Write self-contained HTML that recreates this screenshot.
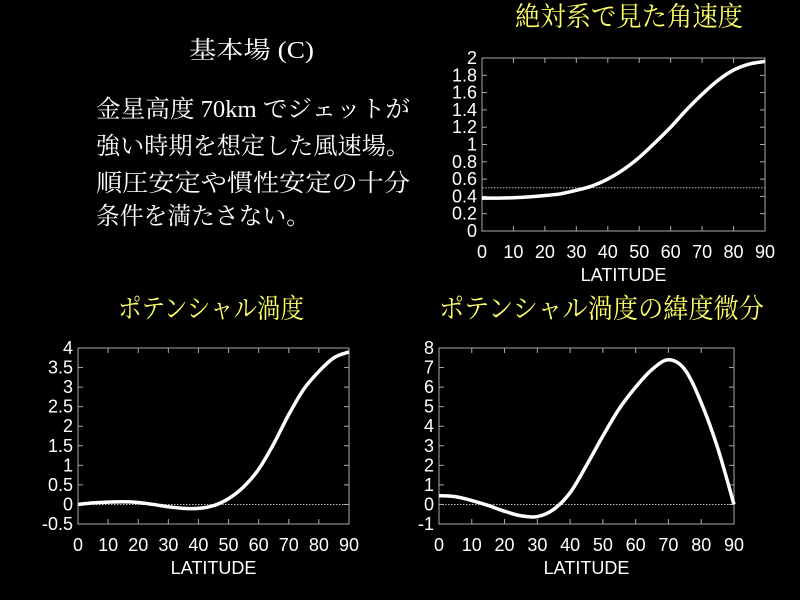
<!DOCTYPE html>
<html><head><meta charset="utf-8"><style>
html,body{margin:0;padding:0;background:#000;}
svg{display:block}
.tk{font-family:"Liberation Sans","DejaVu Sans",sans-serif;font-size:18px;fill:#fff}
.ttl{font-family:"Liberation Serif","Noto Serif CJK SC",serif;font-size:27px;fill:#ffff66}
.txt{font-family:"Liberation Serif","Noto Serif CJK SC",serif;font-size:24px;fill:#fff}
</style></head><body>
<svg id="root" width="800" height="600" viewBox="0 0 800 600">
<text class="ttl" x="515" y="26" textLength="228" lengthAdjust="spacingAndGlyphs">絶対系で見た角速度</text>
<text class="txt" x="189" y="58" textLength="125" lengthAdjust="spacingAndGlyphs">基本場 (C)</text>
<text class="txt" x="96" y="117" textLength="314" lengthAdjust="spacingAndGlyphs">金星高度 70km でジェットが</text>
<text class="txt" x="96" y="154" textLength="314" lengthAdjust="spacingAndGlyphs">強い時期を想定した風速場。</text>
<text class="txt" x="96" y="191" textLength="314" lengthAdjust="spacingAndGlyphs">順圧安定や慣性安定の十分</text>
<text class="txt" x="96" y="224" textLength="214" lengthAdjust="spacingAndGlyphs">条件を満たさない。</text>
<text class="ttl" x="118" y="318" textLength="186" lengthAdjust="spacingAndGlyphs">ポテンシャル渦度</text>
<text class="ttl" x="439" y="318" textLength="325" lengthAdjust="spacingAndGlyphs">ポテンシャル渦度の緯度微分</text>
</svg>
<script>
const lat = [0,5,10,15,20,25,30,35,40,45,50,55,60,65,70,75,80,85,90];
const omegaVals = [0.38,0.38,0.385,0.395,0.41,0.43,0.47,0.52,0.6,0.71,0.85,1.02,1.2,1.4,1.58,1.74,1.86,1.93,1.96];
const pvVals = [0,0.04,0.06,0.07,0.05,0,-0.06,-0.1,-0.1,-0.03,0.15,0.45,0.9,1.55,2.3,2.95,3.4,3.75,3.9];
const dpvVals = [0.45,0.4,0.2,-0.05,-0.35,-0.58,-0.62,-0.25,0.6,2.0,3.5,4.9,6.0,6.9,7.4,6.9,5.2,2.9,0];
const omegaTicks = ["0","0.2","0.4","0.6","0.8","1","1.2","1.4","1.6","1.8","2"];
const pvTicks = ["-0.5","0","0.5","1","1.5","2","2.5","3","3.5","4"];
const dpvTicks = ["-1","0","1","2","3","4","5","6","7","8"];
const xTicks = ["0","10","20","30","40","50","60","70","80","90"];
const NS="http://www.w3.org/2000/svg", root=document.getElementById('root');
function mk(tag,attrs,parent){const e=document.createElementNS(NS,tag);for(const k in attrs)e.setAttribute(k,attrs[k]);(parent||root).appendChild(e);return e;}
function chart(id,box,ymin,ymax,yt,vals,ref){
  const g=mk('g',{});
  
  
  const X=v=>box.x0+(v-0)/90*(box.x1-box.x0);
  const Y=v=>box.y1-(v-ymin)/(ymax-ymin)*(box.y1-box.y0);
  const fr=mk('rect',{x:box.x0,y:box.y0,width:box.x1-box.x0,height:box.y1-box.y0,fill:'none',stroke:'#aaa','stroke-width':1},g);
  
  
  yt.forEach(t=>{const v=parseFloat(t),y=Y(v);
    mk('line',{x1:box.x0,x2:box.x0+5,y1:y,y2:y,stroke:'#aaa'},g);mk('line',{x1:box.x1-5,x2:box.x1,y1:y,y2:y,stroke:'#aaa'},g);
    const tx=mk('text',{class:'tk',x:box.x0-5,y:y+6,'text-anchor':'end'},g);tx.textContent=t;
    
    });
  xTicks.forEach(t=>{const x=X(parseFloat(t));
    mk('line',{x1:x,x2:x,y1:box.y1,y2:box.y1-5,stroke:'#aaa'},g);mk('line',{x1:x,x2:x,y1:box.y0,y2:box.y0+5,stroke:'#aaa'},g);
    const tx=mk('text',{class:'tk',x:x,y:box.y1+27,'text-anchor':'middle'},g);tx.textContent=t;
    
    });
  const xl=mk('text',{class:'tk',x:(box.x0+box.x1)/2,y:box.y1+50,'text-anchor':'middle'},g);xl.textContent='LATITUDE';
  
  
  const rl=mk('line',{x1:box.x0,x2:box.x1,y1:Y(ref),y2:Y(ref),stroke:'#bbb','stroke-dasharray':'1.5 1.5'},g);
  
  
  const P=lat.map((l,i)=>[X(l),Y(vals[i])]);
  let d='M'+P[0][0]+','+P[0][1];
  for(let i=0;i<P.length-1;i++){const p0=P[Math.max(0,i-1)],p1=P[i],p2=P[i+1],p3=P[Math.min(P.length-1,i+2)];
    d+=' C'+(p1[0]+(p2[0]-p0[0])/6)+','+(p1[1]+(p2[1]-p0[1])/6)+' '+(p2[0]-(p3[0]-p1[0])/6)+','+(p2[1]-(p3[1]-p1[1])/6)+' '+p2[0]+','+p2[1];}
  const c=mk('path',{d:d,fill:'none',stroke:'#fff','stroke-width':3.5},g);
  
  
}
chart('angular-velocity-chart',{x0:482,x1:765,y0:58,y1:231},0,2,omegaTicks,omegaVals,0.5);
chart('potential-vorticity-chart',{x0:78,x1:349,y0:348,y1:524},-0.5,4,pvTicks,pvVals,0);
chart('pv-gradient-chart',{x0:439,x1:734,y0:348,y1:524},-1,8,dpvTicks,dpvVals,0);
</script>
</body></html>
